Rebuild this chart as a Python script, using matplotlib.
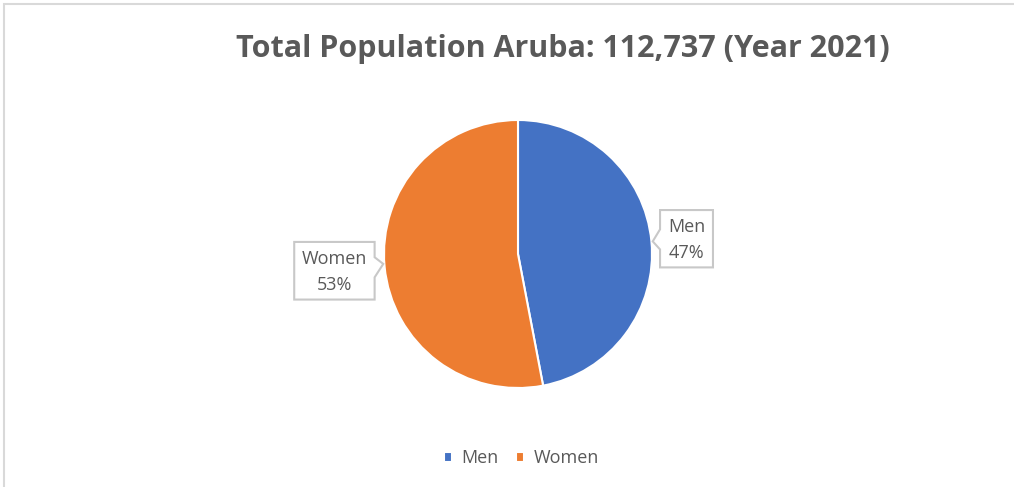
import numpy as np
import matplotlib.pyplot as plt
from matplotlib.patches import Polygon, Rectangle

# Aruba 2021, share of total population (%)
labels = ['Men', 'Women']
shares = [47, 53]
colors = ['#4472C4', '#ED7D31']
title = 'Total Population Aruba: 112,737 (Year 2021)'

plt.rcParams['font.family'] = ['Open Sans', 'DejaVu Sans']
grey = '#595959'

fig = plt.figure(figsize=(10.14, 4.87), dpi=100)

# light chart border (cut by the screenshot on the right and bottom)
fig.patches.append(Rectangle((4 / 1014, -0.1), 1.2, 1.1 - 4 / 487, transform=fig.transFigure,
                             fill=False, edgecolor='#d9d9d9', linewidth=1.5))

ax = fig.add_axes([384 / 1014, 99 / 487, 268 / 1014, 268 / 487])
wedges, _ = ax.pie(shares, colors=colors, startangle=90, counterclock=False, radius=1,
                   wedgeprops=dict(edgecolor='white', linewidth=1.5))
ax.set_xlim(-1, 1)
ax.set_ylim(-1, 1)
ax.set_aspect('equal')
ax.axis('off')


def callout(x0, x1, y0, y1, side, tip, notch, text):
    # box with a small pointer toward the pie, coordinates in pie radii
    n0, n1 = notch
    if side == 'left':
        pts = [(x0, y1), (x1, y1), (x1, y0), (x0, y0), (x0, n0), tip, (x0, n1)]
    else:
        pts = [(x0, y1), (x1, y1), (x1, n1), tip, (x1, n0), (x1, y0), (x0, y0)]
    ax.add_patch(Polygon(pts, closed=True, facecolor='white', edgecolor='#c8c8c8',
                         linewidth=1.5, clip_on=False, zorder=4))
    ax.text((x0 + x1) / 2, (y0 + y1) / 2 - 0.01, text, ha='center', va='center',
            fontsize=13, color=grey, linespacing=1.55, zorder=5)


# label positions follow the wedge mid angles
for i, w in enumerate(wedges):
    mid = np.deg2rad((w.theta1 + w.theta2) / 2)
    ex, ey = np.cos(mid), np.sin(mid)
    txt = f'{labels[i]}\n{shares[i]}%'
    if ex > 0:
        callout(1.06, 1.455, -0.10, 0.328, 'left', (ex + 0.01, ey),
                (ey - 0.06, ey + 0.09), txt)
    else:
        callout(-1.67, -1.07, -0.34, 0.09, 'right', (ex - 0.01, ey + 0.02),
                (ey - 0.08, ey + 0.07), txt)

fig.text(0.555, 0.899, title, ha='center', va='center', fontsize=22,
         fontweight='bold', color=grey)

fig.legend(wedges, labels, loc='center', bbox_to_anchor=(0.514, 0.059), ncol=2,
           frameon=False, fontsize=13, labelcolor=grey, handlelength=0.45,
           handleheight=0.45, handletextpad=0.5, columnspacing=1.0)

fig.savefig('out.png', dpi=100, facecolor='white')
